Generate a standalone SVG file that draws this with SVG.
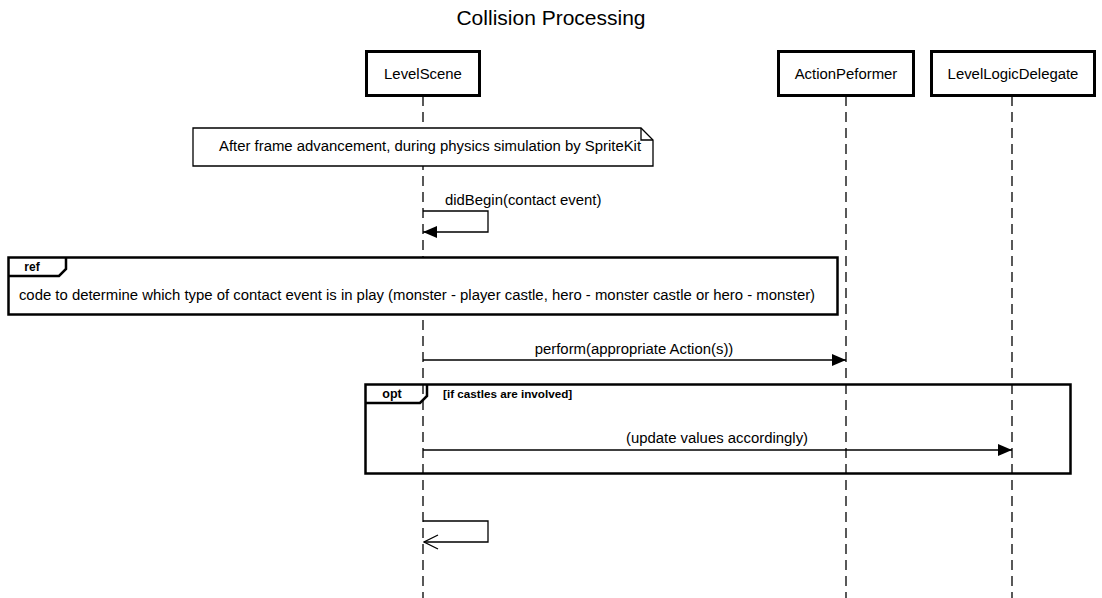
<svg xmlns="http://www.w3.org/2000/svg" width="1102" height="598" viewBox="0 0 1102 598">
<defs>
<style>
text{font-family:"Liberation Sans",Arial,sans-serif;fill:#000}
.lbl{font-size:14.9px}
.box{fill:#fff;stroke:#000;stroke-width:3}
.life{stroke:#000;stroke-width:1.3;stroke-dasharray:10,6;fill:none}
.msg{stroke:#000;stroke-width:1.3;fill:none}
.frame{fill:none;stroke:#000;stroke-width:2.5}
</style>
<marker id="filled" markerWidth="14" markerHeight="12" refX="14" refY="6" orient="auto" markerUnits="userSpaceOnUse">
<path d="M0,0 L14,6 L0,12 Z" fill="#000"/>
</marker>
<marker id="open" markerWidth="16" markerHeight="16" refX="15" refY="8" orient="auto" markerUnits="userSpaceOnUse">
<path d="M1,1 L15,8 L1,15" fill="none" stroke="#000" stroke-width="1.3"/>
</marker>
</defs>
<rect width="1102" height="598" fill="#fff"/>
<text x="551" y="25" text-anchor="middle" font-size="21">Collision Processing</text>

<g id="lifelines">
<line class="life" x1="423" y1="96" x2="423" y2="598"/>
<line class="life" x1="846" y1="96" x2="846" y2="598"/>
<line class="life" x1="1012" y1="96" x2="1012" y2="598"/>
</g>

<g id="LevelScene">
<rect class="box" x="366.5" y="51.5" width="113" height="44"/>
<text class="lbl" x="423" y="79" text-anchor="middle">LevelScene</text>
</g>
<g id="ActionPeformer">
<rect class="box" x="778.5" y="51.5" width="135" height="44"/>
<text class="lbl" x="846" y="79" text-anchor="middle">ActionPeformer</text>
</g>
<g id="LevelLogicDelegate">
<rect class="box" x="931.5" y="51.5" width="163" height="44"/>
<text class="lbl" x="1013" y="79" text-anchor="middle">LevelLogicDelegate</text>
</g>

<g id="note">
<path d="M193,128 L641,128 L653,140 L653,166 L193,166 Z" fill="#fff" stroke="#000" stroke-width="1.3"/>
<path d="M641,128 L641,140 L653,140" fill="none" stroke="#000" stroke-width="1.3"/>
<text class="lbl" x="430" y="151" text-anchor="middle">After frame advancement, during physics simulation by SpriteKit</text>
</g>

<g id="ref">
<rect x="8.5" y="257.5" width="829" height="57" fill="#fff" stroke="#000" stroke-width="2.5"/>
<path d="M8.5,276 L59,276 L66,269 L66,257.5" fill="none" stroke="#000" stroke-width="2.5"/>
<text x="32" y="271" font-size="12" font-weight="bold" text-anchor="middle">ref</text>
<text class="lbl" x="417" y="300" text-anchor="middle">code to determine which type of contact event is in play (monster - player castle, hero - monster castle or hero - monster)</text>
</g>

<g id="opt">
<rect class="frame" x="365.5" y="384.5" width="705" height="89"/>
<path d="M365.5,403 L420,403 L427,396 L427,384.5" fill="none" stroke="#000" stroke-width="2.5"/>
<text x="392" y="398" font-size="12.5" font-weight="bold" text-anchor="middle">opt</text>
<text x="443" y="398" font-size="11.7" font-weight="bold">[if castles are involved]</text>
</g>

<g id="connectors">
<path class="msg" d="M423,211 L488,211 L488,232 L423,232" marker-end="url(#filled)"/>
<text class="lbl" x="445" y="205">didBegin(contact event)</text>
<line class="msg" x1="423" y1="360" x2="846" y2="360" marker-end="url(#filled)"/>
<text class="lbl" x="634" y="354" text-anchor="middle">perform(appropriate Action(s))</text>
<line class="msg" x1="423" y1="450" x2="1012" y2="450" marker-end="url(#filled)"/>
<text class="lbl" x="717" y="443" text-anchor="middle">(update values accordingly)</text>
<path class="msg" d="M423,521 L488,521 L488,542 L424,542" marker-end="url(#open)"/>
</g>
</svg>
